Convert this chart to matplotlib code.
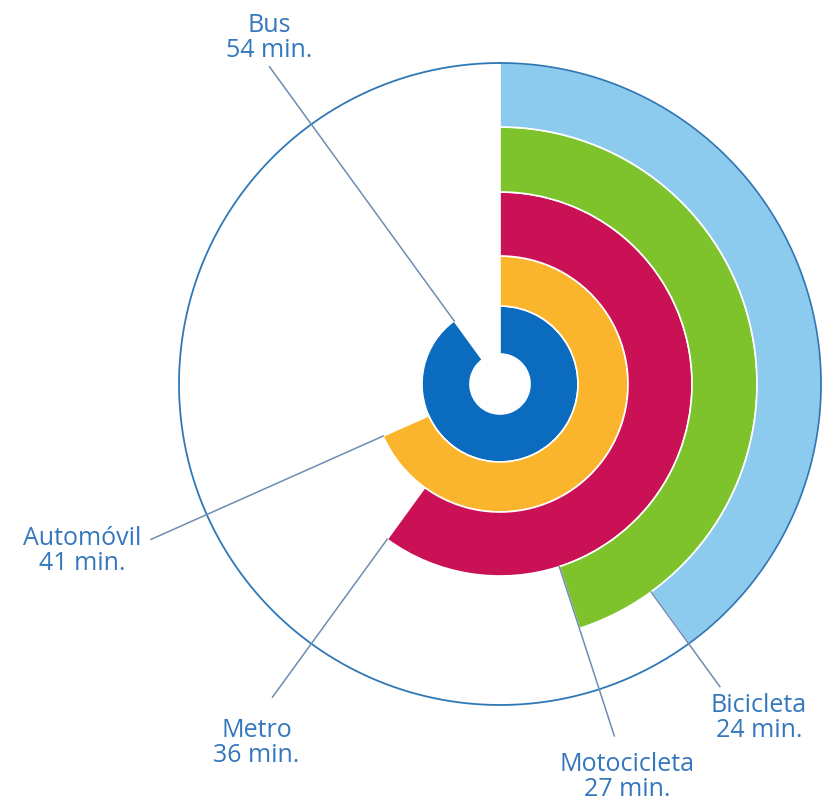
import numpy as np
import matplotlib.pyplot as plt

# tiempo medio de viaje por medio de transporte (minutos)
modes = ["Bus", "Automóvil", "Metro", "Motocicleta", "Bicicleta"]
minutes = [54, 41, 36, 27, 24]
colors = ["#0a6bbf", "#fbb52c", "#cb1156", "#7ec32c", "#8dcbee"]
full_scale = 60  # una vuelta completa = 60 min

# layout (pixels)
W, H = 826, 805
cx, cy = 500, 384
R = 450
ring_edges = [30, 78, 128, 192, 257, 321]
label_r = [392, 382, 387, 370, 374]
line_from_inner = [False, False, False, True, True]
text_off = [(0, 4), (-10, -12), (-16, -21), (13, -16), (39, -6)]
text_align = [("center", "bottom"), ("right", "center"), ("center", "top"),
              ("center", "top"), ("center", "top")]

txt_color = "#3477bd"
line_color = "#6d8db2"

fig = plt.figure(figsize=(W / 100, H / 100), dpi=100)
ax = fig.add_axes([(cx - R) / W, (H - cy - R) / H, 2 * R / W, 2 * R / H],
                  projection="polar")
ax.set_theta_zero_location("N")
ax.set_theta_direction(-1)
ax.set_rlim(0, R)
ax.axis("off")

for i, (m, v, c) in enumerate(zip(modes, minutes, colors)):
    ang = 2 * np.pi * v / full_scale
    r0, r1 = ring_edges[i], ring_edges[i + 1]
    ax.bar(0, r1 - r0, width=ang, bottom=r0, align="edge", color=c,
           edgecolor="white", linewidth=1.2, zorder=2)

# circulo exterior
t = np.linspace(0, 2 * np.pi, 500)
ax.plot(t, np.full_like(t, ring_edges[-1]), color="#2f78b8", lw=1.3, zorder=3)

for i, (m, v) in enumerate(zip(modes, minutes)):
    ang = 2 * np.pi * v / full_scale
    rs = ring_edges[i] if line_from_inner[i] else ring_edges[i + 1]
    ax.plot([ang, ang], [rs, label_r[i]], color=line_color, lw=1.1, zorder=4,
            clip_on=False)
    ax.annotate(f"{m}\n{v} min.", xy=(ang, label_r[i]), xytext=text_off[i],
                textcoords="offset pixels", ha=text_align[i][0],
                va=text_align[i][1], multialignment="center",
                fontsize=18, family="Open Sans", color=txt_color,
                linespacing=1.0, annotation_clip=False)

fig.savefig("out.png", dpi=100)
